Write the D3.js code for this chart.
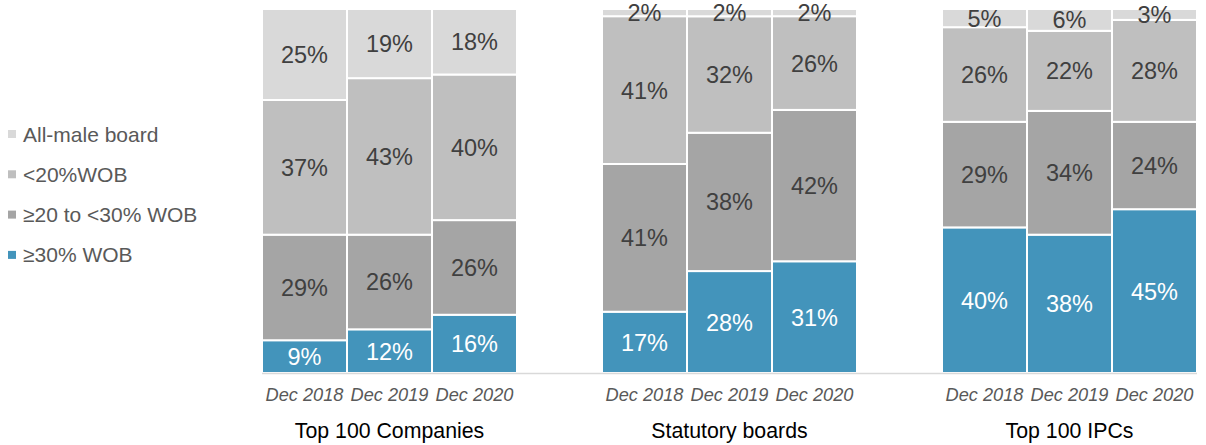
<!DOCTYPE html>
<html lang="en">

<head>
    <meta charset="UTF-8">
    <title>Board composition</title>
    <script src="https://d3js.org/d3.v7.min.js"></script>
    <style>
        body {
            margin: 0;
            background: #fff;
        }

        svg {
            font-family: Arial, "Liberation Sans", sans-serif;
        }
    </style>
</head>

<body>
    <svg id="chart" width="1206" height="445"></svg>

    <script>
        // chart values, one entry per bar (3 groups x 3 years)
        const groups = ["Top 100 Companies", "Statutory boards", "Top 100 IPCs"];
        const years = ["Dec 2018", "Dec 2019", "Dec 2020"];
        const seriesNames = ["≥30% WOB", "≥20 to <30% WOB", "<20%WOB", "All-male board"];
        const wob30 = [9, 12, 16, 17, 28, 31, 40, 38, 45];
        const wob20to30 = [29, 26, 26, 41, 38, 42, 29, 34, 24];
        const wobUnder20 = [37, 43, 40, 41, 32, 26, 26, 22, 28];
        const allMale = [25, 19, 18, 2, 2, 2, 5, 6, 3];

        const colors = ["#4394bb", "#a5a5a5", "#bfbfbf", "#d9d9d9"];
        const labelColors = ["#ffffff", "#404040", "#404040", "#404040"];

        function program() {
            const svg = d3.select("#chart");

            // each group takes 3 slots, with one empty slot between groups
            const rows = [];
            groups.forEach(function (g, gi) {
                years.forEach(function (yr, yi) {
                    const i = gi * 3 + yi;
                    rows.push({
                        slot: gi * 4 + yi,
                        group: g,
                        year: yr,
                        "≥30% WOB": wob30[i],
                        "≥20 to <30% WOB": wob20to30[i],
                        "<20%WOB": wobUnder20[i],
                        "All-male board": allMale[i]
                    });
                });
            });

            const x = d3.scaleBand()
                .domain(d3.range(11))
                .range([262, 1197])
                .padding(0);

            const y = d3.scaleLinear()
                .domain([0, 1])
                .range([373, 9]);

            const stack = d3.stack()
                .keys(seriesNames)
                .offset(d3.stackOffsetExpand);
            const series = stack(rows);

            const layers = svg.append("g")
                .selectAll("g")
                .data(series)
                .join("g")
                .attr("fill", function (d, i) { return colors[i]; });

            layers.selectAll("rect")
                .data(function (d) { return d; })
                .join("rect")
                .attr("x", function (d) { return x(d.data.slot); })
                .attr("width", x.bandwidth())
                .attr("y", function (d) { return y(d[1]); })
                .attr("height", function (d) { return y(d[0]) - y(d[1]); })
                .attr("stroke", "#fff")
                .attr("stroke-width", 2);

            // value labels
            series.forEach(function (s, si) {
                svg.append("g")
                    .selectAll("text")
                    .data(s)
                    .join("text")
                    .attr("x", function (d) { return x(d.data.slot) + x.bandwidth() / 2; })
                    .attr("y", function (d) { return (y(d[0]) + y(d[1])) / 2; })
                    .attr("dy", "0.36em")
                    .attr("text-anchor", "middle")
                    .attr("font-size", 23.5)
                    .attr("fill", labelColors[si])
                    .text(function (d) { return d.data[s.key] + "%"; });
            });

            // baseline
            svg.append("line")
                .attr("x1", 262)
                .attr("x2", 1197)
                .attr("y1", 373.5)
                .attr("y2", 373.5)
                .attr("stroke", "#d9d9d9")
                .attr("stroke-width", 1.5);

            // year labels
            svg.append("g")
                .selectAll("text")
                .data(rows)
                .join("text")
                .attr("x", function (d) { return x(d.slot) + x.bandwidth() / 2; })
                .attr("y", 401)
                .attr("text-anchor", "middle")
                .attr("font-size", 18.2)
                .attr("font-style", "italic")
                .attr("fill", "#595959")
                .text(function (d) { return d.year; });

            // group labels
            svg.append("g")
                .selectAll("text")
                .data(groups)
                .join("text")
                .attr("x", function (d, i) { return x(i * 4 + 1) + x.bandwidth() / 2; })
                .attr("y", 438)
                .attr("text-anchor", "middle")
                .attr("font-size", 21.3)
                .attr("fill", "#000")
                .text(function (d) { return d; });

            // legend, top item is the top layer
            const legendItems = seriesNames.slice().reverse();
            const legend = svg.append("g")
                .selectAll("g")
                .data(legendItems)
                .join("g")
                .attr("transform", function (d, i) { return "translate(8," + (134 + i * 40.3) + ")"; });

            legend.append("rect")
                .attr("x", 0)
                .attr("y", -4)
                .attr("width", 8)
                .attr("height", 8)
                .attr("fill", function (d) { return colors[seriesNames.indexOf(d)]; });

            legend.append("text")
                .attr("x", 15)
                .attr("dy", "0.36em")
                .attr("font-size", 21)
                .attr("fill", "#595959")
                .text(function (d) { return d; });
        }

        program();
    </script>
</body>

</html>
